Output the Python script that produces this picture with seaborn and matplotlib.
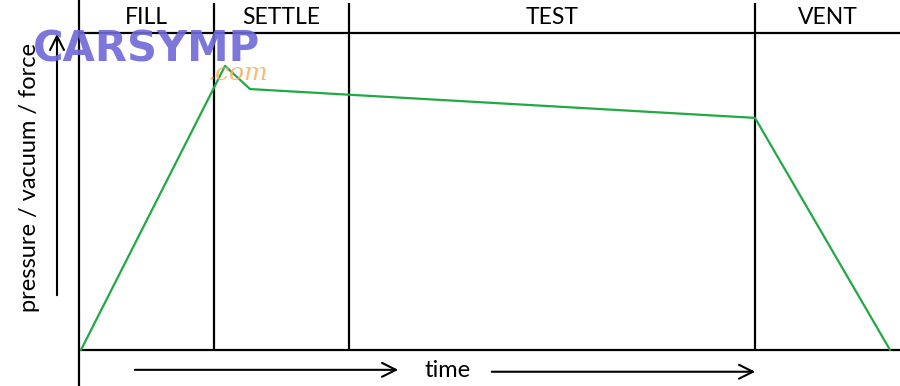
import matplotlib
matplotlib.use("Agg")
import matplotlib.pyplot as plt
import seaborn as sns
import pandas as pd

# ---- data ----
stages = ["FILL", "SETTLE", "TEST", "VENT"]
stage_bounds = [0.0, 13.5, 27.0, 67.6, 82.1]
time = [0.2, 14.6, 17.1, 67.6, 81.1]
pressure = [0.0, 89.6, 82.3, 73.2, 0.0]

df = pd.DataFrame({"time": time, "pressure": pressure})

sns.set_style("white")
plt.rcParams["font.family"] = ["Lato", "DejaVu Sans"]

fig = plt.figure(figsize=(9, 3.86), dpi=100)
ax = fig.add_axes([79 / 900, 0, 1 - 79 / 900, 1])
ax.set_xlim(stage_bounds[0], stage_bounds[-1])
ax.set_ylim(-11.4, 110.4)

lw = 1.6
sns.lineplot(data=df, x="time", y="pressure", ax=ax, color="#22a844", lw=1.6, zorder=3)

# frame
for s in ["top", "right", "bottom"]:
    ax.spines[s].set_visible(False)
ax.spines["left"].set_linewidth(lw)
ax.spines["left"].set_color("black")
ax.set_xticks([])
ax.set_yticks([])
ax.set_xlabel("")
ax.set_ylabel("")

ax.axhline(0, color="black", lw=lw, zorder=2)
ax.axhline(100, color="black", lw=lw, zorder=2)
for b in stage_bounds[1:-1]:
    ax.vlines(b, 0, 109.5, color="black", lw=lw, zorder=2)

for name, a, b in zip(stages, stage_bounds[:-1], stage_bounds[1:]):
    ax.text((a + b) / 2, 105, name, ha="center", va="center", fontsize=16.5, color="black")

# time arrows
arrow = dict(arrowstyle="->", color="black", lw=1.5, mutation_scale=25)
ax.annotate("", xy=(32.2, -6.3), xytext=(5.3, -6.3), arrowprops=arrow, annotation_clip=False)
ax.annotate("", xy=(67.9, -6.9), xytext=(41.0, -6.9), arrowprops=arrow, annotation_clip=False)
ax.text(36.9, -6.6, "time", ha="center", va="center", fontsize=17, color="black")

# y axis arrow and label
fig.add_artist(matplotlib.patches.FancyArrowPatch((57 / 900, 1 - 298 / 386), (57 / 900, 1 - 31 / 386),
                                                  transform=fig.transFigure, arrowstyle="->",
                                                  color="black", lw=1.5, mutation_scale=25))
fig.text(30 / 900, 1 - 177 / 386, "pressure / vacuum / force", rotation=90,
         ha="center", va="center", fontsize=17, color="black")

# watermark
fig.text(33 / 900, 1 - 50 / 386, "CARSYMP", fontsize=30, fontweight="heavy",
         family="DejaVu Sans", color="#7068d8", alpha=0.9, ha="left", va="center")
fig.text(238 / 900, 1 - 74 / 386, ".com", fontsize=18, style="italic",
         family="DejaVu Serif", color="#f5b060", alpha=0.85, ha="center", va="center")

fig.savefig("out.png", dpi=100)
